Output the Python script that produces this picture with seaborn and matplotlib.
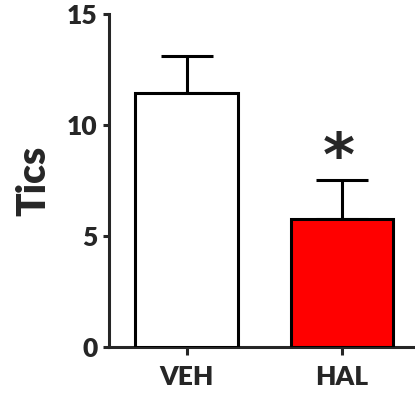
import matplotlib
matplotlib.use("Agg")
import matplotlib.pyplot as plt
import seaborn as sns
import numpy as np

groups = ["VEH", "HAL"]
means = [11.45, 5.77]
sem = [1.67, 1.74]
colors = ["white", "#ff0000"]
yticks = [0, 5, 10, 15]

sns.set_style("ticks")
plt.rcParams['font.family'] = ['Lato', 'DejaVu Sans']
plt.rcParams['font.weight'] = 'heavy'

fig = plt.figure(figsize=(4.15, 3.93), dpi=100)
ax = fig.add_axes([0.2627, 0.117, 0.7373, 0.8474])

sns.barplot(x=groups, y=means, palette=colors, hue=groups, legend=False,
            edgecolor="black", linewidth=2.2, width=0.66, errorbar=None,
            saturation=1, ax=ax, zorder=3)
ax.errorbar(x=np.arange(len(groups)), y=means,
            yerr=[np.zeros(len(sem)), sem], fmt="none", ecolor="black",
            elinewidth=2.2, capsize=18.5, capthick=2.2, zorder=1)

ax.set_xlim(-0.5, 1.47)
ax.set_ylim(0, 15)
ax.set_yticks(yticks)
ax.set_yticklabels([str(t) for t in yticks], fontsize=19, fontweight='heavy')
ax.set_xticks(range(len(groups)))
ax.set_xticklabels(groups, fontsize=19, fontweight='heavy')
ax.set_ylabel("Tics", fontsize=28, fontweight='heavy', labelpad=10)
ax.set_xlabel("")

for s in ["top", "right"]:
    ax.spines[s].set_visible(False)
for s in ["left", "bottom"]:
    ax.spines[s].set_linewidth(2.2)
ax.tick_params(axis='y', length=4.3, width=2.2, pad=4)
ax.tick_params(axis='x', length=6, width=2.2, pad=7)

ax.text(0.98, 8.75, "*", ha='center', va='center_baseline',
        fontsize=44, fontweight='heavy', family=['DejaVu Sans'])

fig.savefig("out.png", dpi=100)
